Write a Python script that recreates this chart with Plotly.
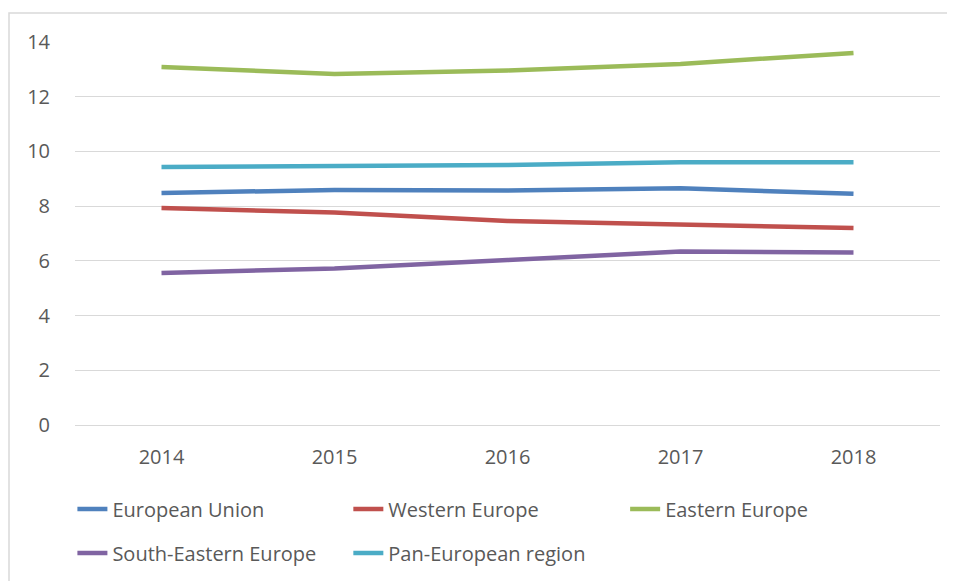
import plotly.graph_objects as go

years = ['2014', '2015', '2016', '2017', '2018']

european_union = [8.48, 8.59, 8.57, 8.65, 8.45]
western_europe = [7.93, 7.77, 7.46, 7.31, 7.20]
eastern_europe = [13.09, 12.83, 12.96, 13.20, 13.60]
south_eastern_europe = [5.56, 5.72, 6.03, 6.34, 6.31]
pan_european = [9.43, 9.45, 9.50, 9.60, 9.60]

series = [
    ('European Union', european_union, '#4F81BD'),
    ('Western Europe', western_europe, '#C0504D'),
    ('Eastern Europe', eastern_europe, '#9BBB59'),
    ('South-Eastern Europe', south_eastern_europe, '#8064A2'),
    ('Pan-European region', pan_european, '#4BACC6'),
]

# one legend per entry so the two rows sit like the excel legend
legend_pos = [(-0.003, -0.219), (0.316, -0.219), (0.636, -0.219),
              (-0.003, -0.334), (0.316, -0.334)]

font = dict(family='Open Sans', size=20, color='#595959')

fig = go.Figure()
legends = {}
for i, (name, values, color) in enumerate(series):
    key = 'legend' if i == 0 else 'legend%d' % (i + 1)
    fig.add_trace(go.Scatter(
        x=years, y=values, name=name, mode='lines',
        line=dict(color=color, width=4.5),
        legend=key, showlegend=True,
    ))
    lx, ly = legend_pos[i]
    legends[key] = dict(
        x=lx, y=ly, xanchor='left', yanchor='middle',
        orientation='h', bgcolor='rgba(0,0,0,0)', font=font,
    )

fig.update_layout(
    width=955, height=581,
    margin=dict(l=67, r=23, t=34, b=164),
    paper_bgcolor='white', plot_bgcolor='white',
    font=font,
    showlegend=True,
    xaxis=dict(
        type='category', range=[-0.5, 4.5],
        showgrid=False, showline=False, zeroline=False,
        ticks='', ticklabelstandoff=18, tickfont=font,
    ),
    yaxis=dict(
        range=[0, 14], dtick=2, tick0=0,
        showgrid=True, gridcolor='#D9D9D9', gridwidth=1,
        zeroline=True, zerolinecolor='#D9D9D9', zerolinewidth=1,
        showline=False, ticks='', ticklabelstandoff=24, tickfont=font,
    ),
    shapes=[dict(
        type='rect', xref='paper', yref='paper',
        x0=-0.0763, x1=1.2, y0=-0.5, y1=1.0757,
        line=dict(color='#D9D9D9', width=1.5), layer='below',
    )],
    **legends,
)

fig.write_html('out.html')
